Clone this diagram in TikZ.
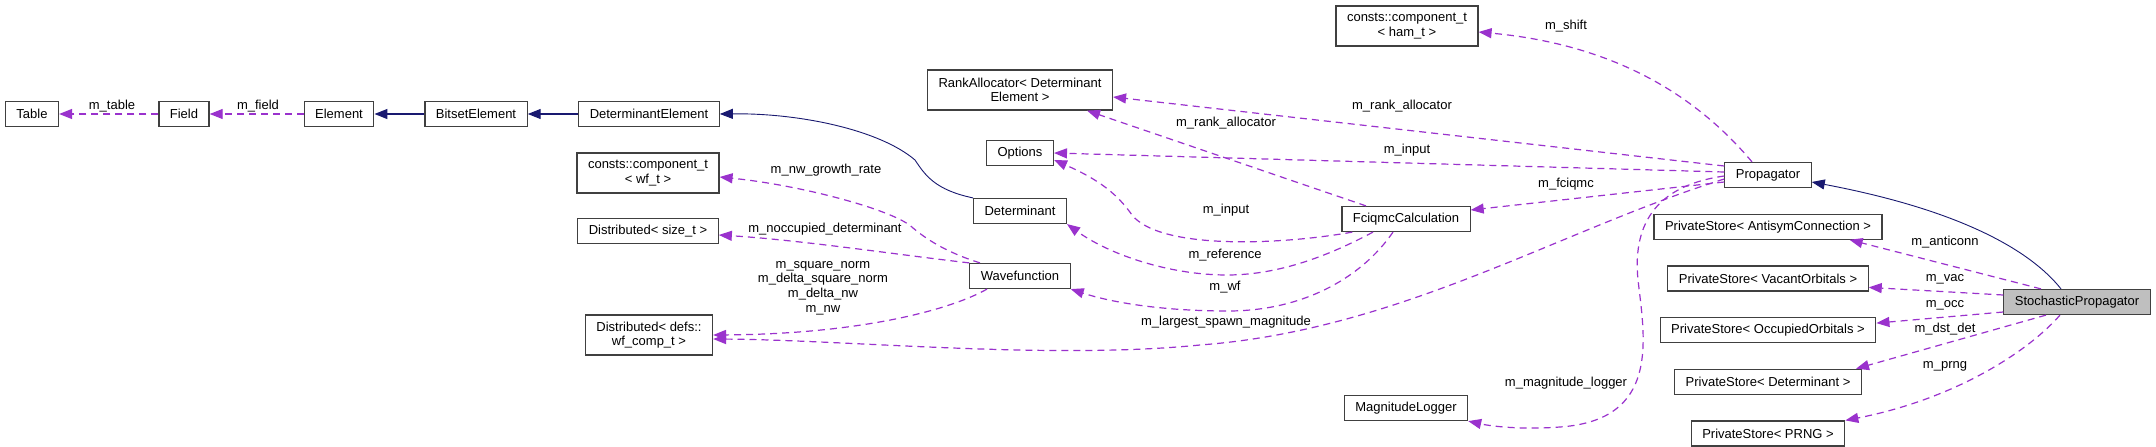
\documentclass[tikz,border=0pt]{standalone}
\usepackage{fontspec}
\setmainfont{Liberation Sans}
\usepackage{tikz}
\usetikzlibrary{arrows.meta, positioning}
\definecolor{usagepurple}{HTML}{9A32CD}
\definecolor{inheritblue}{HTML}{191970}
\definecolor{boxgray}{HTML}{BFBFBF}
\definecolor{boxline}{HTML}{404040}

\begin{document}
\begin{tikzpicture}[
    x=1pt, y=-1pt,
    node distance=25.5pt,
    font=\fontsize{13}{14.6}\selectfont,
    classbox/.style={
        rectangle, draw=boxline, fill=white, line width=1.2pt,
        minimum height=25pt, inner xsep=11pt, inner ysep=3pt, align=center
    },
    usage/.style={-{Triangle[length=13pt, width=10pt]}, dash pattern=on 7pt off 5pt, line width=1.2pt, color=usagepurple},
    inherit/.style={-{Triangle[length=13pt, width=10pt]}, line width=1.3pt, color=inheritblue},
    lbl/.style={text=black, align=center}
]
\path[use as bounding box, fill=white] (0,0) rectangle (2156,447);

\node[classbox] (table) at (32,114) {Table};
\node[classbox] (field) at (184,114) {Field};
\node[classbox] (element) at (339,114) {Element};
\node[classbox] (bitset) at (476,114) {BitsetElement};
\node[classbox] (detelement) at (649,114) {DeterminantElement};
\node[classbox, minimum height=40pt] (conswf) at (648,173) {consts::component\_t\\< wf\_t >};
\node[classbox] (distsize) at (648,231) {Distributed< size\_t >};
\node[classbox, minimum height=40pt] (distwf) at (649,335) {Distributed< defs::\\wf\_comp\_t >};

\node[classbox, minimum height=40pt] (rankalloc) at (1020,90) {RankAllocator< Determinant\\Element >};
\node[classbox] (options) at (1020,153) {Options};
\node[classbox] (determinant) at (1020,211) {Determinant};
\node[classbox] (wavefn) at (1020,276) {Wavefunction};

\node[classbox, minimum height=40pt] (consham) at (1407,26) {consts::component\_t\\< ham\_t >};
\node[classbox] (fciqmc) at (1406,219) {FciqmcCalculation};
\node[classbox] (maglogger) at (1406,408) {MagnitudeLogger};

\node[classbox] (propagator) at (1768,175) {Propagator};
\node[classbox, below=of propagator] (psanti) {PrivateStore< AntisymConnection >};
\node[classbox, below=of psanti] (psvacant) {PrivateStore< VacantOrbitals >};
\node[classbox, below=of psvacant] (psoccupied) {PrivateStore< OccupiedOrbitals >};
\node[classbox, below=of psoccupied] (psdet) {PrivateStore< Determinant >};
\node[classbox, below=of psdet] (psprng) {PrivateStore< PRNG >};
\node[classbox, fill=boxgray] (stochastic) at (2077,302) {StochasticPropagator};

\draw[usage] (field.west) -- (table.east) node[lbl] at (112,106) {m\_table};
\draw[usage] (element.west) -- (field.east) node[lbl] at (258,106) {m\_field};
\draw[inherit] (bitset.west) -- (element.east);
\draw[inherit] (detelement.west) -- (bitset.east);
\draw[inherit, line width=0.9pt] (determinant.north west) .. controls (935,190) and (925,175) .. (915,160) .. controls (880,130) and (800,113) .. (detelement.east);

\draw[usage] ([xshift=-40pt]wavefn.north) .. controls (945,252) and (925,238) .. (913,228) .. controls (895,210) and (800,185) .. ([yshift=-4pt]conswf.east) node[lbl] at (826,170) {m\_nw\_growth\_rate};
\draw[usage] (wavefn.north west) .. controls (900,255) and (800,240) .. ([yshift=-4pt]distsize.east) node[lbl] at (825,229) {m\_noccupied\_determinant};
\draw[usage] ([xshift=-33pt]wavefn.south) .. controls (950,310) and (860,334) .. (distwf.east) node[lbl] at (823,288) {m\_square\_norm\\m\_delta\_square\_norm\\m\_delta\_nw\\m\_nw};
\draw[usage] ([yshift=-4pt]propagator.west) .. controls (1560,230) and (1400,330) .. (1200,345) .. controls (1050,360) and (850,340) .. ([yshift=-4pt]distwf.east) node[lbl] at (1226,322) {m\_largest\_spawn\_magnitude};

\draw[usage] ([xshift=-13pt]fciqmc.south) .. controls (1360,280) and (1300,311) .. (1228,311) .. controls (1160,311) and (1110,302) .. (wavefn.south east) node[lbl] at (1225,287) {m\_wf};
\draw[usage] ([xshift=-33pt]fciqmc.south) .. controls (1330,255) and (1280,275) .. (1227,275) .. controls (1170,275) and (1110,255) .. (determinant.south east) node[lbl] at (1225,255) {m\_reference};
\draw[usage] ([xshift=11pt]fciqmc.south west) .. controls (1280,245) and (1160,250) .. (1132,215) .. controls (1118,195) and (1100,180) .. ([yshift=-7pt]options.east) node[lbl] at (1226,210) {m\_input};
\draw[usage] ([xshift=-40pt]fciqmc.north) -- ([xshift=67pt]rankalloc.south) node[lbl] at (1226,123) {m\_rank\_allocator};

\draw[usage] ([yshift=9pt]propagator.west) -- ([yshift=-7pt]rankalloc.east) node[lbl] at (1402,106) {m\_rank\_allocator};
\draw[usage] ([yshift=3pt]propagator.west) -- (options.east) node[lbl] at (1407,150) {m\_input};
\draw[usage] ([yshift=-7pt]propagator.west) -- ([yshift=9pt]fciqmc.east) node[lbl] at (1566,184) {m\_fciqmc};
\draw[usage] ([xshift=-16pt]propagator.north) .. controls (1700,100) and (1620,45) .. ([yshift=-6pt]consham.east) node[lbl] at (1566,26) {m\_shift};
\draw[usage] ([yshift=-1pt]propagator.west) .. controls (1660,185) and (1632,220) .. (1638,280) .. controls (1645,340) and (1660,420) .. (1560,427) .. controls (1520,430) and (1490,426) .. (maglogger.south east) node[lbl] at (1566,383) {m\_magnitude\_logger};

\draw[inherit, line width=0.9pt] ([xshift=-16pt]stochastic.north) .. controls (2030,250) and (1960,210) .. ([yshift=-7pt]propagator.east);
\draw[usage] ([xshift=-36pt]stochastic.north) -- ([xshift=-33pt]psanti.south east) node[lbl] at (1945,242) {m\_anticonn};
\draw[usage] ([yshift=7pt]stochastic.west) -- ([yshift=-9pt]psvacant.east) node[lbl] at (1945,279) {m\_vac};
\draw[usage] ([yshift=-10pt]stochastic.west) -- ([yshift=7pt]psoccupied.east) node[lbl] at (1945,305) {m\_occ};
\draw[usage] ([xshift=-31pt]stochastic.south) -- ([xshift=-6pt]psdet.north east) node[lbl] at (1945,329) {m\_dst\_det};
\draw[usage] ([xshift=-17pt]stochastic.south) .. controls (2025,355) and (1950,400) .. (psprng.north east) node[lbl] at (1945,366) {m\_prng};

\end{tikzpicture}
\end{document}
